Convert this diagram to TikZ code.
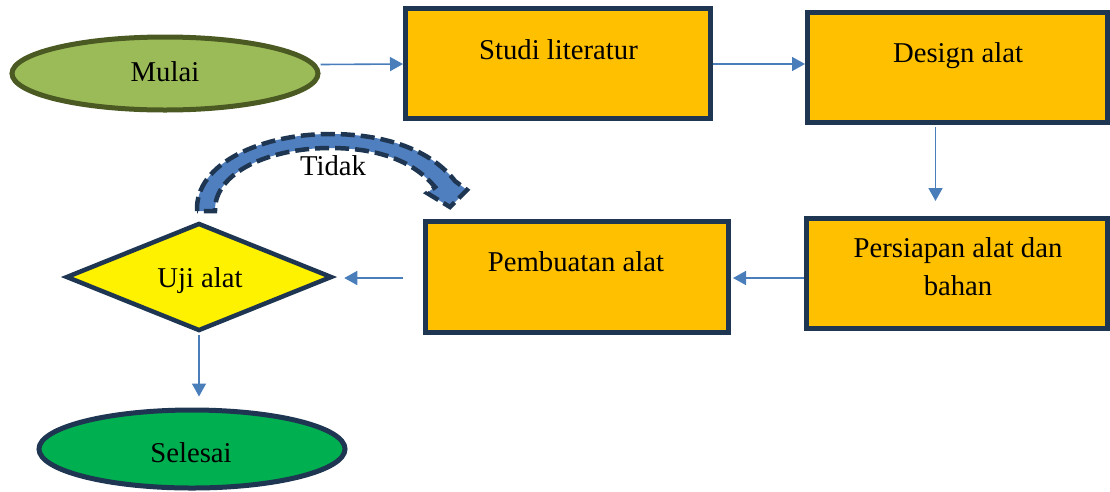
\documentclass[tikz,border=0pt]{standalone}
\usepackage{fontspec}
\setmainfont{Liberation Serif}
\usetikzlibrary{shapes.geometric,arrows.meta,calc}
\definecolor{boxfill}{HTML}{FFC000}
\definecolor{navy}{HTML}{1F3652}
\definecolor{olive}{HTML}{4A5A22}
\definecolor{startfill}{HTML}{9BBB59}
\definecolor{endfill}{HTML}{00B050}
\definecolor{arrblue}{HTML}{4A7EBB}
\definecolor{curvefill}{HTML}{4F7FBF}
\tikzset{
  procbox/.style={draw=navy, fill=boxfill, line width=5pt, rectangle, inner sep=0pt},
  termshape/.style={ellipse, line width=5pt, inner sep=0pt, minimum width=306pt},
  lbl/.style={anchor=base, font=\fontsize{28.7}{38}\selectfont, inner sep=0pt},
  arr/.style={draw=arrblue, line width=1.6pt, -{Triangle[length=13pt,width=14pt]}},
}
\begin{document}
\begin{tikzpicture}[x=1pt,y=-1pt]
\useasboundingbox (0,0) rectangle (1110,491);
% nodes
\node[termshape, draw=olive, fill=startfill, minimum height=73pt] (mulai) at (165,73.5) {};
\node[procbox, minimum width=305pt, minimum height=110pt] (studi) at (558,63.5) {};
\node[procbox, minimum width=300pt, minimum height=110pt] (design) at (957.5,67.5) {};
\node[procbox, minimum width=301pt, minimum height=110pt] (persiapan) at (957,273.5) {};
\node[procbox, minimum width=303pt, minimum height=111pt] (pembuatan) at (577,277) {};
\node[diamond, draw=navy, fill=yellow, line width=4.5pt, inner sep=0pt,
      minimum width=266pt, minimum height=108pt, aspect=2.46] (uji) at (199,277) {};
\node[termshape, draw=navy, fill=endfill, minimum height=78pt] (selesai) at (192,449) {};
% labels
\node[lbl] (mulaiT) at (165,81) {Mulai};
\node[lbl] (studiT) at (558.5,59) {Studi literatur};
\node[lbl] (designT) at (958,62.5) {Design alat};
\node[lbl] (persT1) at (958,257) {Persiapan alat dan};
\node[lbl] (persT2) at (958,295) {bahan};
\node[lbl] (pembT) at (576,271) {Pembuatan alat};
\node[lbl] (ujiT) at (200,287) {Uji alat};
\node[lbl] (selT) at (191,462) {Selesai};
\node[lbl] (tidakT) at (333,175) {Tidak};
% connectors
\draw[arr] ($(mulai.east)+(0,-9)$) -- (studi.west |- 0,64);
\draw[arr] (studi.east |- 0,64) -- (design.west |- 0,64);
\draw[arr] ($(design.south)+(-22,2)$) -- ($(design.south |- persiapan.north)+(-22,-15)$);
\draw[arr] ($(persiapan.west)+(0,4.5)$) -- ($(pembuatan.east)+(2,1)$);
\draw[arr] ($(pembuatan.west)+(-20,1)$) -- ($(uji.east)+(10,1)$);
\draw[arr] ($(uji.south)+(0,2)$) -- ($(uji.south |- selesai.north)+(0,-11)$);
% curved "Tidak" block arrow
\draw[fill=curvefill, draw=navy, line width=4.5pt, dash pattern=on 14pt off 6pt, line join=miter]
  (197,211) .. controls (195,163) and (262,134) .. (330,134)
  .. controls (393,134) and (434,154) .. (455,181)
  -- (467,190) -- (450,207) -- (427,193) -- (435,187)
  .. controls (415,163) and (382,148) .. (330,148)
  .. controls (270,148) and (214,172) .. (215,211) -- cycle;
\end{tikzpicture}
\end{document}
